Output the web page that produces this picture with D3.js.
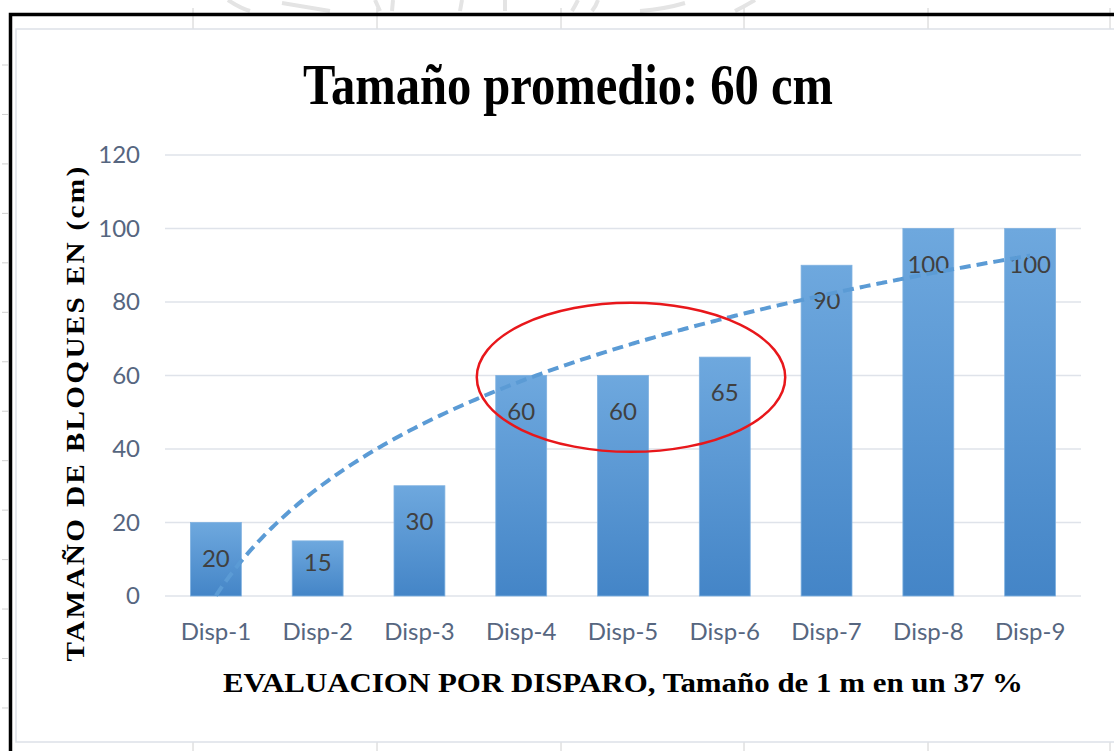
<!DOCTYPE html>
<html>
<head>
<meta charset="utf-8">
<script src="https://cdnjs.cloudflare.com/ajax/libs/d3/7.8.5/d3.min.js"></script>
<style>
  body { margin: 0; background: #fff; }
  svg { display: block; }
</style>
</head>
<body>
<svg width="1114" height="751"></svg>
<script>
// chart data
var categories = ["Disp-1", "Disp-2", "Disp-3", "Disp-4", "Disp-5", "Disp-6", "Disp-7", "Disp-8", "Disp-9"];
var values = [20, 15, 30, 60, 60, 65, 90, 100, 100];
var yTicks = [0, 20, 40, 60, 80, 100, 120];
var titleText = "Tamaño promedio: 60 cm";
var xTitle = "EVALUACION POR DISPARO, Tamaño de 1 m en un 37 %";
var yTitle = "TAMAÑO DE BLOQUES EN (cm)";
// circled group (first / last category)
var circled = ["Disp-4", "Disp-6"];

var svg = d3.select("svg"),
  margin = { top: 155, right: 33, bottom: 155, left: 165 },
  width = +svg.attr("width") - margin.left - margin.right,
  height = +svg.attr("height") - margin.top - margin.bottom;

var x = d3.scaleBand().domain(categories).range([0, width])
  .paddingInner(0.5).paddingOuter(0.25);
var y = d3.scaleLinear().domain([0, 120]).range([height, 0]);

// page background bits: frame, guides
var page = svg.append("g");
[193, 377, 561, 744, 928, 1110].forEach(function (gx) {
  page.append("line").attr("x1", gx).attr("x2", gx).attr("y1", 8).attr("y2", 29)
    .attr("stroke", "#d0d0d0").attr("stroke-width", 1);
  page.append("line").attr("x1", gx).attr("x2", gx).attr("y1", 742).attr("y2", 751)
    .attr("stroke", "#d0d0d0").attr("stroke-width", 1);
});
d3.range(14).forEach(function (i) {
  var ty = 65 + i * 49.46;
  page.append("line").attr("x1", 2).attr("x2", 8).attr("y1", ty).attr("y2", ty)
    .attr("stroke", "#cfcfcf").attr("stroke-width", 1);
});
// faint watermark fragments
page.append("path")
  .attr("d", "M228,0 Q240,8 250,11 M282,3 Q300,6 330,11 M375,0 L380,11 M393,0 L392,11 M462,0 L460,11 M505,0 L505,11 M578,0 Q575,6 572,11 M598,0 Q596,6 592,11 M640,11 Q665,9 685,3 M735,11 Q745,6 755,0")
  .attr("fill", "none").attr("stroke", "#e4e4e4").attr("stroke-width", 4);

page.append("rect").attr("x", 16).attr("y", 29).attr("width", 1120).attr("height", 713)
  .attr("fill", "#fff").attr("stroke", "#dde1e8").attr("stroke-width", 1.5);
page.append("path").attr("d", "M10.5,800 L10.5,14.5 L1120,14.5")
  .attr("fill", "none").attr("stroke", "#000").attr("stroke-width", 3.5);

var g = svg.append("g")
  .attr("transform", "translate(" + margin.left + "," + margin.top + ")");

// each bar: lighter at its top, darker at its base
var grad = svg.append("defs").append("linearGradient")
  .attr("id", "barGrad").attr("x1", 0).attr("y1", 0).attr("x2", 0).attr("y2", 1);
grad.append("stop").attr("offset", "0%").attr("stop-color", "#6ea8de");
grad.append("stop").attr("offset", "100%").attr("stop-color", "#4485c7");

// gridlines
g.append("g")
  .selectAll("line").data(yTicks).enter().append("line")
  .attr("x1", 0).attr("x2", width)
  .attr("y1", function (d) { return y(d); }).attr("y2", function (d) { return y(d); })
  .attr("stroke", "#dfe3ea").attr("stroke-width", 1.5);

// y axis tick labels
g.append("g")
  .call(d3.axisLeft(y).tickValues(yTicks).tickSize(0).tickPadding(25))
  .call(function (a) { a.select(".domain").remove(); })
  .selectAll("text")
  .attr("font-family", "Lato, 'Open Sans', sans-serif")
  .attr("font-size", 24)
  .attr("fill", "#566680");

// x axis labels
g.append("g")
  .attr("transform", "translate(0," + height + ")")
  .call(d3.axisBottom(x).tickSize(0).tickPadding(27))
  .call(function (a) { a.select(".domain").remove(); })
  .selectAll("text")
  .attr("font-family", "Lato, 'Open Sans', sans-serif")
  .attr("font-size", 24)
  .attr("fill", "#566680");

// bars
g.selectAll(".bar")
  .data(values)
  .enter().append("rect")
  .attr("class", "bar")
  .attr("x", function (d, i) { return x(categories[i]); })
  .attr("y", function (d) { return y(d); })
  .attr("width", x.bandwidth())
  .attr("height", function (d) { return height - y(d); })
  .attr("fill", "url(#barGrad)")
  .attr("stroke", "#7fb1e0").attr("stroke-width", 0.8);

// data labels (inside end, kept inside short bars)
g.selectAll(".lbl")
  .data(values)
  .enter().append("text")
  .attr("class", "lbl")
  .attr("x", function (d, i) { return x(categories[i]) + x.bandwidth() / 2; })
  .attr("y", function (d) { return Math.min(y(d) + 44, height - 25); })
  .attr("text-anchor", "middle")
  .attr("font-family", "Lato, 'Open Sans', sans-serif")
  .attr("font-size", 24)
  .attr("fill", "#404040")
  .text(function (d) { return d; });

// logarithmic trendline fitted to the bar values
var lx = values.map(function (d, i) { return Math.log(i + 1); });
var mx = d3.mean(lx), my = d3.mean(values);
var slope = d3.sum(lx, function (v, i) { return (v - mx) * (values[i] - my); }) /
  d3.sum(lx, function (v) { return (v - mx) * (v - mx); });
var icpt = my - slope * mx;
var step = x.step();
var xc = function (k) { return x(categories[0]) + x.bandwidth() / 2 + (k - 1) * step; };
var trend = d3.range(1, categories.length + 0.001, 0.05).map(function (k) {
  return [xc(k), y(icpt + slope * Math.log(k))];
});
g.append("path")
  .attr("d", d3.line().curve(d3.curveMonotoneX)(trend))
  .attr("fill", "none")
  .attr("stroke", "#5b9bd5")
  .attr("stroke-width", 4)
  .attr("stroke-dasharray", "11,6");

// red ellipse around the circled group
var e0 = x(circled[0]), e1 = x(circled[1]) + x.bandwidth();
g.append("ellipse")
  .attr("cx", (e0 + e1) / 2 + 8)
  .attr("cy", y(59.5))
  .attr("rx", (e1 - e0) / 2 + 27)
  .attr("ry", y(40) - y(60) + 1)
  .attr("fill", "none")
  .attr("stroke", "#e8171b")
  .attr("stroke-width", 2.5);

// titles
svg.append("text")
  .attr("x", 568).attr("y", 104)
  .attr("text-anchor", "middle")
  .attr("font-family", "'Liberation Serif', 'Times New Roman', serif")
  .attr("font-weight", "bold")
  .attr("font-size", 56)
  .attr("textLength", 530).attr("lengthAdjust", "spacingAndGlyphs")
  .text(titleText);

svg.append("text")
  .attr("x", 623).attr("y", 692)
  .attr("text-anchor", "middle")
  .attr("font-family", "'Liberation Serif', 'Times New Roman', serif")
  .attr("font-weight", "bold")
  .attr("font-size", 28)
  .attr("textLength", 800).attr("lengthAdjust", "spacingAndGlyphs")
  .text(xTitle);

svg.append("text")
  .attr("transform", "translate(84,413) rotate(-90)")
  .attr("text-anchor", "middle")
  .attr("font-family", "'Liberation Serif', 'Times New Roman', serif")
  .attr("font-weight", "bold")
  .attr("font-size", 26)
  .attr("letter-spacing", 2)
  .attr("textLength", 497).attr("lengthAdjust", "spacingAndGlyphs")
  .text(yTitle);
</script>
</body>
</html>
